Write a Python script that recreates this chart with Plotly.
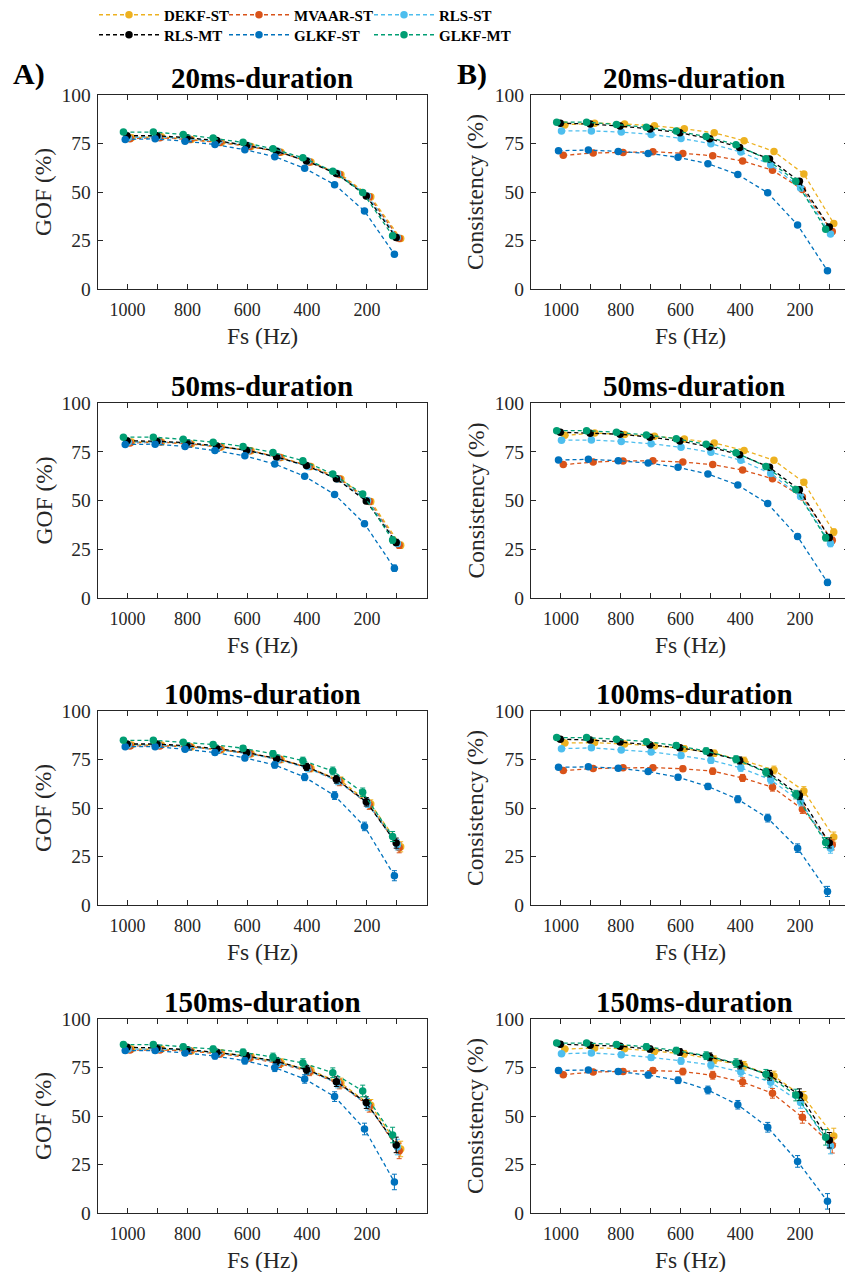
import plotly.graph_objects as go

FS = [1000, 900, 800, 700, 600, 500, 400, 300, 200, 100]
TICK_VALS = [1000, 900, 800, 700, 600, 500, 400, 300, 200, 100]
TICK_TEXT = ["1000", "", "800", "", "600", "", "400", "", "200", ""]
Y_TICKS = [0, 25, 50, 75, 100]
DURATIONS = ["20ms-duration", "50ms-duration", "100ms-duration", "150ms-duration"]
METHODS = ["DEKF-ST", "MVAAR-ST", "RLS-ST", "RLS-MT", "GLKF-ST", "GLKF-MT"]
COLORS = {"DEKF-ST": "#EDB120", "MVAAR-ST": "#D95319", "RLS-ST": "#4DBEEE",
          "RLS-MT": "#000000", "GLKF-ST": "#0072BD", "GLKF-MT": "#009E73"}
DODGE = {"DEKF-ST": -13, "MVAAR-ST": -8, "RLS-ST": -2, "RLS-MT": 2, "GLKF-ST": 8, "GLKF-MT": 14}

# ---- GOF (%) ----
GOF_20 = {
    "DEKF-ST":  [78.0, 78.5, 77.0, 75.5, 73.5, 70.5, 65.5, 59.0, 47.5, 26.0],
    "MVAAR-ST": [77.5, 78.0, 77.0, 75.5, 73.5, 70.5, 65.5, 59.0, 47.5, 26.0],
    "RLS-ST":   [78.0, 78.5, 77.5, 76.0, 74.0, 71.0, 66.0, 59.5, 48.0, 26.5],
    "RLS-MT":   [79.0, 79.0, 78.0, 76.5, 74.0, 71.0, 66.0, 59.5, 48.0, 26.5],
    "GLKF-ST":  [77.1, 77.4, 76.2, 74.5, 71.8, 68.2, 62.2, 53.8, 40.2, 17.9],
    "GLKF-MT":  [80.9, 80.9, 79.7, 77.8, 75.6, 72.3, 67.7, 60.7, 49.7, 27.5],
}
GOF_50 = {
    "DEKF-ST":  [80.0, 80.0, 79.0, 77.5, 75.5, 72.0, 67.5, 61.0, 49.5, 27.0],
    "MVAAR-ST": [79.5, 80.0, 79.0, 77.5, 75.5, 72.0, 67.5, 61.0, 49.5, 27.0],
    "RLS-ST":   [80.0, 80.0, 79.5, 77.5, 75.5, 72.0, 67.5, 61.0, 50.0, 28.0],
    "RLS-MT":   [80.6, 80.4, 79.6, 78.0, 75.8, 72.3, 67.9, 61.2, 49.7, 28.5],
    "GLKF-ST":  [78.7, 78.9, 77.7, 75.6, 72.9, 68.7, 62.4, 53.1, 38.1, 15.3],
    "GLKF-MT":  [82.5, 82.5, 81.4, 79.9, 77.7, 74.6, 70.4, 63.6, 53.3, 29.7],
}
GOF_100 = {
    "DEKF-ST":  [82.5, 82.5, 81.5, 80.0, 78.0, 75.0, 70.5, 64.0, 52.0, 30.0],
    "MVAAR-ST": [82.0, 82.0, 81.5, 80.0, 78.0, 75.0, 70.5, 63.5, 51.5, 29.5],
    "RLS-ST":   [82.5, 82.5, 81.5, 80.0, 78.0, 75.0, 70.5, 64.0, 52.5, 31.0],
    "RLS-MT":   [83.0, 83.0, 82.0, 80.6, 78.6, 75.5, 71.2, 64.8, 53.2, 31.9],
    "GLKF-ST":  [81.6, 81.6, 80.3, 78.6, 75.8, 72.2, 65.9, 56.4, 40.5, 15.1],
    "GLKF-MT":  [84.9, 84.9, 83.9, 82.7, 80.8, 78.0, 74.4, 69.1, 58.1, 35.3],
}
GOF_150 = {
    "DEKF-ST":  [84.5, 84.5, 83.5, 82.5, 80.5, 77.5, 73.5, 67.0, 55.5, 33.0],
    "MVAAR-ST": [84.0, 84.0, 83.5, 82.0, 80.0, 77.0, 73.0, 66.5, 55.0, 32.0],
    "RLS-ST":   [84.5, 84.5, 84.0, 82.5, 80.5, 77.5, 73.5, 67.0, 56.0, 34.0],
    "RLS-MT":   [85.4, 85.1, 84.2, 82.8, 80.9, 78.2, 73.9, 67.7, 56.9, 35.1],
    "GLKF-ST":  [83.7, 83.7, 82.5, 80.9, 78.5, 74.9, 69.1, 60.0, 43.3, 16.0],
    "GLKF-MT":  [86.8, 86.8, 85.7, 84.5, 82.8, 80.4, 77.3, 72.3, 62.9, 40.2],
}

# ---- Consistency (%) ----
CON_20 = {
    "DEKF-ST":  [84.6, 85.5, 85.1, 84.1, 82.6, 80.5, 76.4, 70.9, 59.3, 33.8],
    "MVAAR-ST": [68.9, 70.1, 70.4, 70.8, 69.9, 68.7, 66.0, 61.2, 51.3, 29.6],
    "RLS-ST":   [81.5, 81.5, 80.9, 79.7, 77.6, 74.9, 70.6, 64.1, 52.1, 28.4],
    "RLS-MT":   [85.5, 85.0, 84.0, 82.5, 80.5, 77.5, 73.0, 67.0, 55.5, 32.0],
    "GLKF-ST":  [71.3, 71.6, 70.9, 69.9, 67.9, 64.6, 59.0, 49.6, 33.0, 9.4],
    "GLKF-MT":  [86.0, 86.0, 84.8, 83.4, 81.4, 78.6, 74.4, 67.2, 55.6, 30.8],
}
CON_50 = {
    "DEKF-ST":  [83.4, 84.6, 83.9, 82.9, 81.5, 79.5, 75.7, 70.6, 59.3, 33.8],
    "MVAAR-ST": [68.4, 69.7, 70.3, 70.4, 69.7, 68.4, 65.6, 61.2, 51.8, 29.6],
    "RLS-ST":   [80.9, 81.0, 80.3, 79.1, 77.3, 74.7, 70.6, 63.8, 52.1, 27.9],
    "RLS-MT":   [85.0, 84.5, 84.0, 82.5, 80.5, 77.5, 73.5, 67.0, 55.5, 31.0],
    "GLKF-ST":  [70.8, 71.1, 70.4, 69.2, 67.0, 63.6, 57.9, 48.4, 31.5, 8.0],
    "GLKF-MT":  [85.8, 85.8, 85.0, 83.6, 81.7, 78.8, 74.5, 67.5, 55.6, 30.9],
}
CON_100 = {
    "DEKF-ST":  [83.5, 83.7, 83.0, 82.0, 80.6, 78.2, 74.4, 69.6, 58.8, 35.0],
    "MVAAR-ST": [69.3, 70.3, 70.7, 70.8, 70.2, 69.0, 65.5, 60.7, 49.4, 31.0],
    "RLS-ST":   [80.6, 81.0, 79.9, 78.9, 77.0, 74.6, 70.7, 64.5, 53.3, 29.3],
    "RLS-MT":   [85.5, 85.0, 84.0, 82.5, 81.0, 78.5, 74.5, 68.0, 56.5, 32.0],
    "GLKF-ST":  [71.0, 71.2, 70.5, 68.8, 65.9, 61.1, 54.5, 44.8, 29.3, 7.0],
    "GLKF-MT":  [86.3, 86.3, 85.4, 84.2, 82.2, 79.4, 75.1, 68.4, 56.9, 32.2],
}
CON_150 = {
    "DEKF-ST":  [84.5, 85.1, 84.7, 83.3, 82.1, 79.0, 75.9, 70.6, 59.6, 39.7],
    "MVAAR-ST": [71.3, 72.7, 73.0, 73.4, 72.9, 71.0, 67.5, 61.7, 49.3, 34.9],
    "RLS-ST":   [82.1, 82.5, 81.6, 80.2, 78.4, 76.3, 72.7, 67.4, 57.0, 34.5],
    "RLS-MT":   [87.0, 86.5, 86.0, 84.5, 83.0, 80.5, 76.5, 71.0, 61.0, 37.5],
    "GLKF-ST":  [73.5, 73.7, 72.9, 71.1, 68.4, 63.4, 55.8, 44.2, 26.6, 6.0],
    "GLKF-MT":  [87.6, 87.6, 86.9, 85.7, 83.7, 81.1, 77.3, 71.5, 60.8, 39.0],
}

# error-bar half widths (shared by all methods within a duration)
ERR_20 = [0.4, 0.4, 0.4, 0.5, 0.5, 0.6, 0.7, 0.8, 1.0, 1.2]
ERR_50 = [0.6, 0.6, 0.6, 0.7, 0.7, 0.8, 0.9, 1.0, 1.3, 1.6]
ERR_100 = [1.0, 1.0, 1.0, 1.2, 1.4, 1.6, 1.8, 2.0, 2.2, 2.6]
ERR_150 = [1.2, 1.2, 1.3, 1.5, 1.7, 2.0, 2.2, 2.5, 3.0, 4.0]

GOF = [GOF_20, GOF_50, GOF_100, GOF_150]
CON = [CON_20, CON_50, CON_100, CON_150]
ERR = [ERR_20, ERR_50, ERR_100, ERR_150]

# page body has an 8px default margin; figure sized so it fits the window
PAGE_OFF = 8
W, H = 853 - PAGE_OFF, 1272 - PAGE_OFF
SERIF = "'Liberation Serif', 'Times New Roman', Times, 'DejaVu Serif', serif"
AXC = "#262626"

# plot areas in page pixels
ROW_PX = [(95, 289), (403, 598), (711, 905), (1019, 1213)]
COL_PX = [(97.7, 426.7), (531, 849)]
X_RANGES = [[1100, 0], [1100, 36]]

fig = go.Figure()
layout = {}
annotations = []

def py(p):
    return 1 - (p - PAGE_OFF) / H

def px(p):
    return (p - PAGE_OFF) / W

for r in range(4):
    for c in range(2):
        k = r * 2 + c + 1
        xa = "x" if k == 1 else f"x{k}"
        ya = "y" if k == 1 else f"y{k}"
        data = GOF[r] if c == 0 else CON[r]
        for mi, m in enumerate(METHODS):
            show = (k == 1)
            lg = "legend" if mi == 0 else f"legend{mi + 1}"
            fig.add_trace(go.Scatter(
                x=[f + DODGE[m] for f in FS], y=data[m],
                mode="lines+markers", name=m,
                line=dict(color=COLORS[m], width=1.3, dash="4px,3px"),
                marker=dict(color=COLORS[m], size=7.5, symbol="circle"),
                error_y=dict(type="data", array=ERR[r], color=COLORS[m], thickness=1, width=2.5),
                xaxis=xa, yaxis=ya, showlegend=show, legend=lg,
            ))
        (x0, x1), (y0, y1) = COL_PX[c], ROW_PX[r]
        axis_common = dict(showline=True, linecolor=AXC, linewidth=1.2, mirror="ticks",
                           ticks="inside", ticklen=5, tickcolor=AXC, tickwidth=1.2,
                           showgrid=False, zeroline=False)
        layout["xaxis" if k == 1 else f"xaxis{k}"] = dict(
            domain=[px(x0), px(x1)], range=X_RANGES[c], anchor=ya,
            tickmode="array", tickvals=TICK_VALS, ticktext=TICK_TEXT,
            tickfont=dict(family=SERIF, size=18, color=AXC),
            ticklabelstandoff=4, **axis_common)
        layout["yaxis" if k == 1 else f"yaxis{k}"] = dict(
            domain=[py(y1), py(y0)], range=[0, 100], anchor=xa,
            tickmode="array", tickvals=Y_TICKS,
            tickfont=dict(family=SERIF, size=19.5, color=AXC),
            ticklabelstandoff=2, **axis_common)
        # title
        annotations.append(dict(text=f"<b>{DURATIONS[r]}</b>", x=px((x0 + x1) / 2 + (0 if c == 0 else 4)),
                                y=py(y0 - 17), xref="paper", yref="paper", showarrow=False,
                                font=dict(family=SERIF, size=29, color="black"),
                                xanchor="center", yanchor="middle"))
        annotations.append(dict(text="Fs (Hz)", x=px((x0 + x1) / 2 if c == 0 else 690), y=py(y1 + 47),
                                xref="paper", yref="paper", showarrow=False,
                                font=dict(family=SERIF, size=23.5, color=AXC),
                                xanchor="center", yanchor="middle"))
        annotations.append(dict(text="GOF (%)" if c == 0 else "Consistency (%)",
                                x=px(43 if c == 0 else 475), y=py((y0 + y1) / 2),
                                xref="paper", yref="paper", showarrow=False, textangle=-90,
                                font=dict(family=SERIF, size=23.5, color=AXC),
                                xanchor="center", yanchor="middle"))

annotations.append(dict(text="<b>A)</b>", x=px(29), y=py(74), xref="paper", yref="paper",
                        showarrow=False, font=dict(family=SERIF, size=30, color="black"),
                        xanchor="center", yanchor="middle"))
annotations.append(dict(text="<b>B)</b>", x=px(472), y=py(74), xref="paper", yref="paper",
                        showarrow=False, font=dict(family=SERIF, size=30, color="black"),
                        xanchor="center", yanchor="middle"))

# legends: 2 rows x 3 columns (page pixels)
LEG_X = [94, 224, 369]
LEG_Y = [15, 35]
for mi, m in enumerate(METHODS):
    key = "legend" if mi == 0 else f"legend{mi + 1}"
    layout[key] = dict(x=px(LEG_X[mi % 3]), y=py(LEG_Y[mi // 3]), xanchor="left", yanchor="middle",
                       bgcolor="rgba(0,0,0,0)", borderwidth=0, itemwidth=60,
                       font=dict(family=SERIF, size=15, color="black", weight="bold"))

fig.update_layout(width=W, height=H, margin=dict(l=0, r=0, t=0, b=0, autoexpand=False),
                  font=dict(family=SERIF),
                  plot_bgcolor="white", paper_bgcolor="white",
                  annotations=annotations, **layout)
fig.write_html("out.html")
